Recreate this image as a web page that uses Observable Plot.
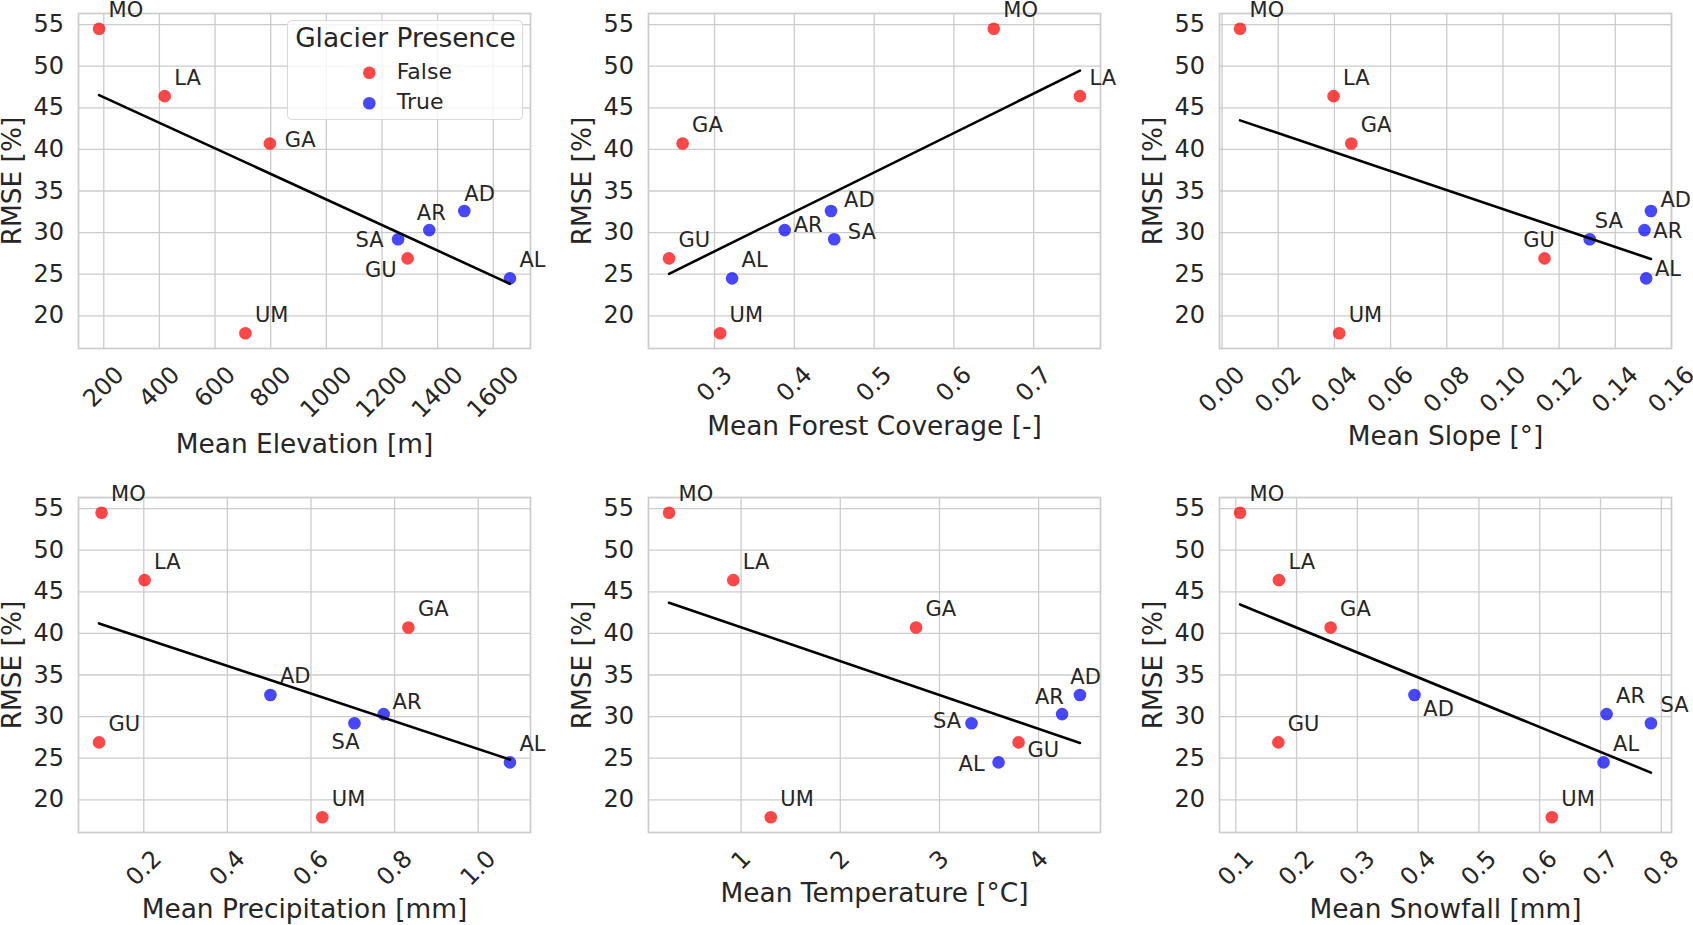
<!DOCTYPE html>
<html>
<head>
<meta charset="utf-8">
<script src="https://cdn.jsdelivr.net/npm/d3@7"></script>
<script src="https://cdn.jsdelivr.net/npm/@observablehq/plot@0.6"></script>
<style>
  body { margin: 0; background: #fff; font-family: "DejaVu Sans", sans-serif; }
  #fig { position: relative; width: 1693px; height: 925px; overflow: hidden; background: #fff; }
</style>
</head>
<body>
<div id="fig"></div>
<script>
// stations and their RMSE
const stations = ["MO", "LA", "GA", "UM", "GU", "SA", "AR", "AD", "AL"];
const glacier = [false, false, false, false, false, true, true, true, true];
const rmse = [54.5, 46.4, 40.7, 17.9, 26.9, 29.2, 30.3, 32.6, 24.5];

// catchment attributes
const elevation = [183, 419, 797, 709, 1292, 1258, 1370, 1496, 1660];
const forest = [0.650, 0.758, 0.260, 0.307, 0.243, 0.450, 0.388, 0.446, 0.322];
const slope = [0.0064, 0.0397, 0.0460, 0.0417, 0.1148, 0.1309, 0.1504, 0.1527, 0.1510];
const precipitation = [0.099, 0.202, 0.833, 0.627, 0.093, 0.704, 0.774, 0.503, 1.076];
const temperature = [0.273, 0.921, 2.764, 1.299, 3.798, 3.323, 4.237, 4.417, 3.596];
const snowfall = [0.107, 0.171, 0.256, 0.620, 0.170, 0.783, 0.710, 0.394, 0.705];

// tick values
const rmseTicks = [20, 25, 30, 35, 40, 45, 50, 55];
const elevationTicks = [200, 400, 600, 800, 1000, 1200, 1400, 1600];
const forestTicks = [0.3, 0.4, 0.5, 0.6, 0.7];
const slopeTicks = [0, 0.02, 0.04, 0.06, 0.08, 0.10, 0.12, 0.14, 0.16];
const precipitationTicks = [0.2, 0.4, 0.6, 0.8, 1.0];
const temperatureTicks = [1, 2, 3, 4];
const snowfallTicks = [0.1, 0.2, 0.3, 0.4, 0.5, 0.6, 0.7, 0.8];

const legendLabels = ["False", "True"];
const colors = ["red", "blue"];

const rows = stations.map((s, i) => ({
  station: s, glacier: glacier[i], rmse: rmse[i],
  elevation: elevation[i], forest: forest[i], slope: slope[i],
  precipitation: precipitation[i], temperature: temperature[i], snowfall: snowfall[i]
}));

// label placement (px offsets from the dot), default is up-right
const defOff = [9.5, -11.5, "start"];
const panels = [
  {key: "elevation", label: "Mean Elevation [m]", ticks: elevationTicks, fmt: d => String(d), labelDy: 104.5,
   off: {GA: [15, 3], SA: [-14.6, 7.3, "end"], GU: [-11, 19, "end"], AR: [-12.5, -10], AD: [0, -10.3]}},
  {key: "forest", label: "Mean Forest Coverage [-]", ticks: forestTicks, fmt: d => d.toFixed(1), labelDy: 86.3,
   off: {AR: [9, 1.7], AD: [13, -4.3], SA: [13.6, 0]}},
  {key: "slope", label: "Mean Slope [°]", ticks: slopeTicks, fmt: d => d.toFixed(2), labelDy: 96.3,
   off: {GU: [-21.2, -11], SA: [5, -11], AR: [8.8, 7.7], AD: [9.5, -4.3], AL: [8.8, -2.3]}},
  {key: "precipitation", label: "Mean Precipitation [mm]", ticks: precipitationTicks, fmt: d => d.toFixed(1), labelDy: 85.5,
   off: {SA: [-22.9, 25.7], AR: [8.9, -5]}},
  {key: "temperature", label: "Mean Temperature [°C]", ticks: temperatureTicks, fmt: d => d.toFixed(0), labelDy: 69.5,
   off: {SA: [-10.4, 4.7, "end"], AL: [-13.9, 8.7, "end"], GU: [8.9, 14.7], AR: [1.8, -10, "end"], AD: [-9.6, -11.3]}},
  {key: "snowfall", label: "Mean Snowfall [mm]", ticks: snowfallTicks, fmt: d => d.toFixed(1), labelDy: 85.6,
   off: {AD: [8.8, 21.3]}}
];

const ink = "#262626";
const gridColor = "#cccccc";
const tickSize = 24;

// rotated x tick labels, centred under the tick like matplotlib
function xTickLabels(ticks, fmt) {
  return ticks.map(t => {
    const s = fmt(t);
    const w = [...s].reduce((a, c) => a + (c === "." ? 0.318 : 0.636), 0) * tickSize;
    return Plot.text([t], {
      x: d => d, text: d => fmt(d), frameAnchor: "bottom", rotate: -45,
      textAnchor: "middle", lineAnchor: "middle",
      dy: 16 + (w + 0.73 * tickSize) / (2 * Math.SQRT2),
      fontSize: tickSize, fill: ink
    });
  });
}

const yExt = d3.extent(rmse);
const yPad = (yExt[1] - yExt[0]) * 0.05;
const fig = document.getElementById("fig");
const colLeft = [0, 570.2, 1140.7];
const rowTop = [0.3, 483.7];

panels.forEach((p, k) => {
  const col = k % 3, row = Math.floor(k / 3);
  const ext = d3.extent(rows, d => d[p.key]);
  const pad = (ext[1] - ext[0]) * 0.05;
  const labelMarks = rows.map(d => {
    const o = p.off[d.station] || defOff;
    return Plot.text([d], {
      x: p.key, y: "rmse", text: "station",
      dx: o[0], dy: o[1], textAnchor: o[2] || "start", lineAnchor: "bottom",
      fontSize: 21, fill: ink
    });
  });
  const chart = Plot.plot({
    width: 552,
    height: row ? 448 : 458,
    marginLeft: 78, marginRight: 22, marginTop: 13, marginBottom: row ? 100 : 110,
    x: {domain: [ext[0] - pad, ext[1] + pad], axis: null},
    y: {domain: [yExt[0] - yPad, yExt[1] + yPad], axis: null},
    color: {domain: [false, true], range: colors},
    style: {fontFamily: "DejaVu Sans", fontSize: "24px", color: ink, background: "transparent", overflow: "visible"},
    marks: [
      Plot.ruleX(p.ticks, {stroke: gridColor, strokeWidth: 1.3}),
      Plot.ruleY(rmseTicks, {stroke: gridColor, strokeWidth: 1.3}),
      Plot.frame({stroke: gridColor, strokeWidth: 1.7}),
      Plot.dot(rows, {x: p.key, y: "rmse", r: 6.3, fill: "glacier", fillOpacity: 0.72}),
      Plot.linearRegressionY(rows, {x: p.key, y: "rmse", stroke: "black", strokeWidth: 2.6, ci: 0}),
      ...labelMarks,
      Plot.text(rmseTicks, {y: d => d, text: d => String(d), frameAnchor: "left", textAnchor: "end",
        lineAnchor: "middle", dx: -14.5, fontSize: tickSize, fill: ink}),
      ...xTickLabels(p.ticks, p.fmt),
      Plot.text(["RMSE [%]"], {frameAnchor: "left", rotate: -90, dx: -66, textAnchor: "middle",
        lineAnchor: "middle", fontSize: 26.4, fill: ink}),
      Plot.text([p.label], {frameAnchor: "bottom", dy: p.labelDy, lineAnchor: "bottom",
        fontSize: 26.4, fill: ink})
    ]
  });
  chart.style.position = "absolute";
  chart.style.left = colLeft[col] + "px";
  chart.style.top = rowTop[row] + "px";
  fig.append(chart);
});

// legend in the first panel
const lg = d3.select(fig).append("svg")
  .attr("width", 237).attr("height", 101)
  .style("position", "absolute").style("left", "287px").style("top", "19.5px")
  .style("overflow", "visible")
  .style("font-family", "DejaVu Sans");
lg.append("rect").attr("x", 0.5).attr("y", 0.5).attr("width", 235).attr("height", 99).attr("rx", 4)
  .attr("fill", "rgba(255,255,255,0.8)").attr("stroke", "#d9d9d9");
lg.append("text").attr("x", 118.5).attr("y", 27.2).attr("text-anchor", "middle")
  .attr("font-size", 26.4).attr("fill", ink).text("Glacier Presence");
legendLabels.forEach((t, i) => {
  lg.append("circle").attr("cx", 82.3).attr("cy", 52.8 + i * 30.4).attr("r", 6.3)
    .attr("fill", colors[i]).attr("fill-opacity", 0.72);
  lg.append("text").attr("x", 109.7).attr("y", 58.8 + i * 30).attr("font-size", 22)
    .attr("fill", ink).text(t);
});
</script>
</body>
</html>
